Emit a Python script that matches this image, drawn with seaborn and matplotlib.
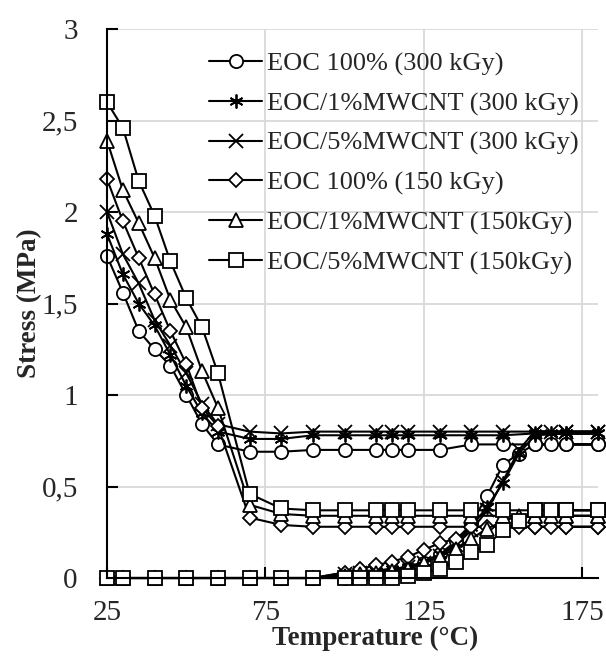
import numpy as np
import pandas as pd
import matplotlib
matplotlib.use('Agg')
import matplotlib.pyplot as plt
import seaborn as sns
from matplotlib.ticker import FuncFormatter

# temperatures of the heating run and of the cooling run (°C)
temp_heat = [25, 30, 40, 50, 60, 70, 80, 90, 100, 105, 110, 115, 120, 125,
             130, 135, 140, 145, 150, 155, 160, 170, 180]
temp_cool = [180, 170, 165, 160, 150, 140, 130, 120, 115, 110, 100, 90, 80,
             70, 60, 55, 50, 45, 40, 35, 30, 25]

labels = ['EOC 100% (300 kGy)', 'EOC/1%MWCNT (300 kGy)', 'EOC/5%MWCNT (300 kGy)',
          'EOC 100% (150 kGy)', 'EOC/1%MWCNT (150kGy)', 'EOC/5%MWCNT (150kGy)']

# stress (MPa), heating
eoc300_heat = [0, 0, 0, 0, 0, 0, 0, 0, 0.0, 0.01, 0.02, 0.03, 0.05, 0.08,
               0.13, 0.20, 0.30, 0.45, 0.62, 0.68, 0.73, 0.73, 0.73]
cnt1_300_heat = [0, 0, 0, 0, 0, 0, 0, 0, 0.03, 0.04, 0.04, 0.05, 0.06, 0.09,
                 0.13, 0.19, 0.28, 0.39, 0.52, 0.68, 0.78, 0.79, 0.79]
cnt5_300_heat = [0, 0, 0, 0, 0, 0, 0, 0, 0.02, 0.03, 0.04, 0.05, 0.06, 0.08,
                 0.12, 0.18, 0.26, 0.37, 0.53, 0.70, 0.80, 0.80, 0.80]
eoc150_heat = [0, 0, 0, 0, 0, 0, 0, 0, 0.03, 0.05, 0.07, 0.09, 0.115, 0.155,
               0.19, 0.215, 0.28, 0.28, 0.28, 0.28, 0.28, 0.28, 0.28]
cnt1_150_heat = [0, 0, 0, 0, 0, 0, 0, 0, 0.01, 0.02, 0.03, 0.04, 0.05, 0.08,
                 0.115, 0.16, 0.215, 0.27, 0.31, 0.34, 0.34, 0.34, 0.34]
cnt5_150_heat = [0, 0, 0, 0, 0, 0, 0, 0, 0, 0, 0, 0, 0.01, 0.025,
                 0.05, 0.09, 0.14, 0.18, 0.26, 0.31, 0.37, 0.37, 0.37]

# stress (MPa), cooling
eoc300_cool = [0.73, 0.73, 0.73, 0.73, 0.73, 0.73, 0.70, 0.70, 0.70, 0.70, 0.70,
               0.70, 0.69, 0.69, 0.73, 0.84, 1.00, 1.16, 1.25, 1.35, 1.56, 1.76]
cnt1_300_cool = [0.79, 0.79, 0.79, 0.79, 0.78, 0.78, 0.78, 0.78, 0.78, 0.78, 0.78,
                 0.78, 0.76, 0.76, 0.80, 0.90, 1.05, 1.22, 1.38, 1.50, 1.66, 1.88]
cnt5_300_cool = [0.80, 0.80, 0.80, 0.80, 0.80, 0.80, 0.80, 0.80, 0.80, 0.80, 0.80,
                 0.80, 0.79, 0.80, 0.84, 0.95, 1.12, 1.27, 1.41, 1.61, 1.77, 2.00]
eoc150_cool = [0.28, 0.28, 0.28, 0.28, 0.28, 0.28, 0.28, 0.28, 0.28, 0.28, 0.28,
               0.28, 0.29, 0.33, 0.83, 0.93, 1.17, 1.35, 1.55, 1.75, 1.95, 2.18]
cnt1_150_cool = [0.34, 0.34, 0.34, 0.34, 0.34, 0.34, 0.34, 0.34, 0.34, 0.34, 0.34,
                 0.34, 0.35, 0.40, 0.93, 1.13, 1.37, 1.52, 1.75, 1.94, 2.12, 2.39]
cnt5_150_cool = [0.37, 0.37, 0.37, 0.37, 0.37, 0.37, 0.37, 0.37, 0.37, 0.37, 0.37,
                 0.37, 0.38, 0.46, 1.12, 1.37, 1.53, 1.73, 1.98, 2.17, 2.46, 2.60]

heat = [eoc300_heat, cnt1_300_heat, cnt5_300_heat, eoc150_heat, cnt1_150_heat, cnt5_150_heat]
cool = [eoc300_cool, cnt1_300_cool, cnt5_300_cool, eoc150_cool, cnt1_150_cool, cnt5_150_cool]

rows = []
for lab, h, c in zip(labels, heat, cool):
    for t, s in zip(temp_heat + temp_cool, h + c):
        rows.append({'sample': lab, 'T': t, 'stress': s})
df = pd.DataFrame(rows)

markers = ['o', (6, 2, 0), 'x', 'D', '^', 's']
msizes = [9.5, 10, 9.5, 7, 10, 10]

sns.set_style('white')
plt.rcParams['font.family'] = ['Liberation Serif', 'DejaVu Serif']

fig = plt.figure(figsize=(6.06, 6.64), dpi=100)
ax = fig.add_axes([0.1766, 0.1295, 0.8104, 0.8268])

for lab, m, ms in zip(labels, markers, msizes):
    sns.lineplot(data=df[df['sample'] == lab], x='T', y='stress', sort=False,
                 estimator=None, color='black', linewidth=1.5, marker=m,
                 markersize=ms, markerfacecolor='white', markeredgecolor='black',
                 markeredgewidth=1.3, clip_on=False, label=lab, ax=ax)

ax.set_xlim(25, 180)
ax.set_ylim(0, 3)
ax.set_xticks([25, 75, 125, 175])
ax.set_yticks(np.arange(0, 3.01, 0.5))
ax.yaxis.set_major_formatter(FuncFormatter(lambda v, p: ('%g' % v).replace('.', ',')))
ax.grid(True, color='#d9d9d9', linewidth=1.3)
ax.set_axisbelow(True)
for s in ['top', 'right']:
    ax.spines[s].set_visible(False)
for s in ['left', 'bottom']:
    ax.spines[s].set_color('black')
    ax.spines[s].set_linewidth(1.5)
ax.tick_params(direction='in', length=8, width=1.5, color='black', labelsize=21,
               left=True, bottom=True)
ax.tick_params(axis='x', pad=16)
ax.tick_params(axis='y', pad=21)

ax.set_xlabel('Temperature (°C)', fontsize=19.5, fontweight='bold')
ax.set_ylabel('Stress (MPa)', fontsize=19.5, fontweight='bold')
ax.xaxis.set_label_coords(0.546, -0.088)
ax.yaxis.set_label_coords(-0.132, 0.5)

ax.legend(loc='upper left', bbox_to_anchor=(0.208, 0.958), frameon=False,
          fontsize=19, handlelength=2.0, handletextpad=0.2, labelspacing=0.6,
          borderpad=0, borderaxespad=0)

fig.savefig('out.png', dpi=100)
